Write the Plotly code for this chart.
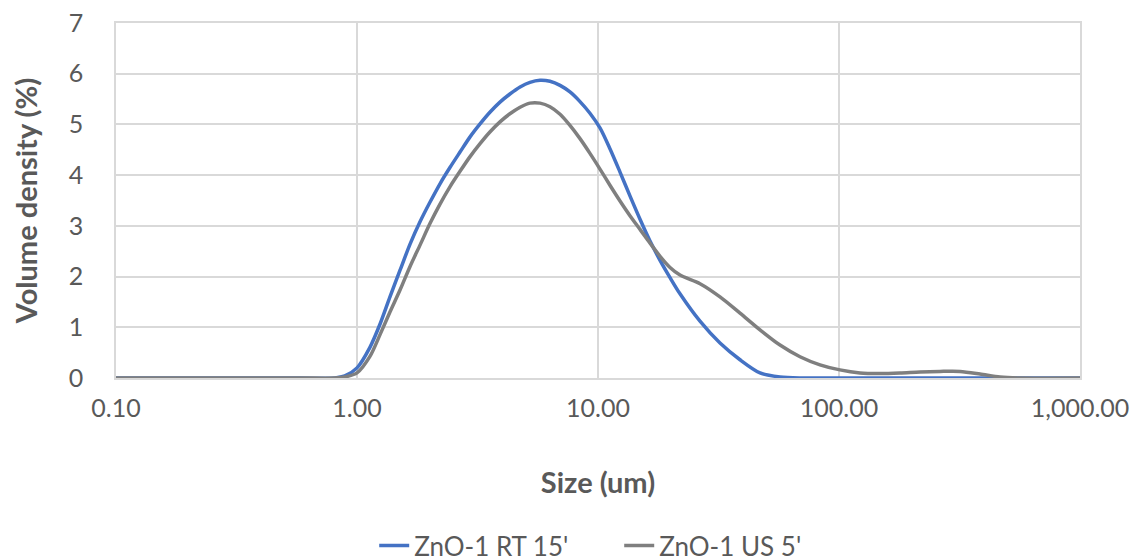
import plotly.graph_objects as go

# particle size (um) and volume density (%)
size_um = [0.1, 0.58, 0.81, 0.89, 1.0, 1.13, 1.25, 1.37, 1.51, 1.66, 1.83, 2.01, 2.21,
           2.43, 2.68, 2.94, 3.24, 3.56, 3.92, 4.31, 4.75, 5.22, 5.75, 6.32, 6.96,
           7.65, 8.42, 9.26, 10.19, 11.21, 12.34, 13.57, 14.94, 16.44, 18.09, 19.9,
           21.89, 26.5, 32.08, 38.84, 47.01, 56.91, 68.89, 83.4, 100.9, 122.2, 147.9,
           179.1, 216.8, 262.5, 317.8, 384.7, 465.6, 563.7, 1000]

rt_15 = [0, 0, 0, 0.04, 0.2, 0.6, 1.08, 1.6, 2.13, 2.64, 3.09, 3.47, 3.83,
         4.15, 4.46, 4.75, 5.01, 5.24, 5.44, 5.6, 5.74, 5.83, 5.87, 5.85, 5.77,
         5.64, 5.45, 5.22, 4.93, 4.52, 4.06, 3.59, 3.13, 2.7, 2.32, 1.98,
         1.66, 1.12, 0.69, 0.36, 0.1, 0.02, 0, 0, 0, 0, 0,
         0, 0, 0, 0, 0, 0, 0, 0]

us_5 = [0, 0, 0, 0.02, 0.1, 0.42, 0.87, 1.3, 1.74, 2.2, 2.63, 3.05, 3.43,
        3.77, 4.08, 4.36, 4.62, 4.85, 5.05, 5.21, 5.34, 5.42, 5.42, 5.35, 5.2,
        4.98, 4.72, 4.43, 4.12, 3.8, 3.49, 3.2, 2.93, 2.66, 2.4, 2.18,
        2.03, 1.86, 1.6, 1.28, 0.95, 0.65, 0.42, 0.26, 0.16, 0.1, 0.09,
        0.1, 0.12, 0.13, 0.13, 0.08, 0.02, 0, 0]

x_ticks = [0.1, 1, 10, 100, 1000]
x_labels = ['0.10', '1.00', '10.00', '100.00', '1,000.00']

font_name = 'Lato'
grey_txt = '#595959'
grid = '#D9D9D9'

fig = go.Figure()

fig.add_trace(go.Scatter(x=size_um, y=rt_15, mode='lines', name="ZnO-1 RT 15'",
                         line=dict(color='#4472C4', width=3.5, shape='spline', smoothing=0.8)))
fig.add_trace(go.Scatter(x=size_um, y=us_5, mode='lines', name="ZnO-1 US 5'",
                         line=dict(color='#7F7F7F', width=3.5, shape='spline', smoothing=0.8)))

# page body has an 8px margin, so the margins below are shifted by that amount
fig.update_layout(
    width=1146, height=560,
    margin=dict(l=108, r=74, t=15, b=190),
    plot_bgcolor='white', paper_bgcolor='white',
    font=dict(family=font_name, color=grey_txt, size=25),
    legend=dict(orientation='h', xref='paper', x=0.522, xanchor='center',
                yref='container', y=0.04, yanchor='middle',
                entrywidth=200, entrywidthmode='pixels',
                font=dict(size=26, color=grey_txt)),
    showlegend=True,
)

fig.update_xaxes(type='log', range=[-1, 3], tickvals=x_ticks, ticktext=x_labels,
                 showgrid=True, gridcolor=grid, gridwidth=1.5,
                 showline=True, mirror=True, linecolor=grid, linewidth=1.5,
                 ticks='', ticklabelstandoff=7, automargin=False, ticklabeloverflow='allow',
                 tickfont=dict(size=25, color=grey_txt),
                 title=dict(text='<b>Size (um)</b>', font=dict(size=29, color=grey_txt), standoff=52))

fig.update_yaxes(range=[0, 7], dtick=1, showgrid=True, gridcolor=grid, gridwidth=1.5,
                 showline=True, mirror=True, linecolor=grid, linewidth=1.5,
                 zeroline=False, ticks='', ticklabelstandoff=26, automargin=False,
                 ticklabeloverflow='allow',
                 tickfont=dict(size=25, color=grey_txt),
                 title=dict(text='<b>Volume density (%)</b>', font=dict(size=29, color=grey_txt), standoff=27))

fig.write_html('out.html')
